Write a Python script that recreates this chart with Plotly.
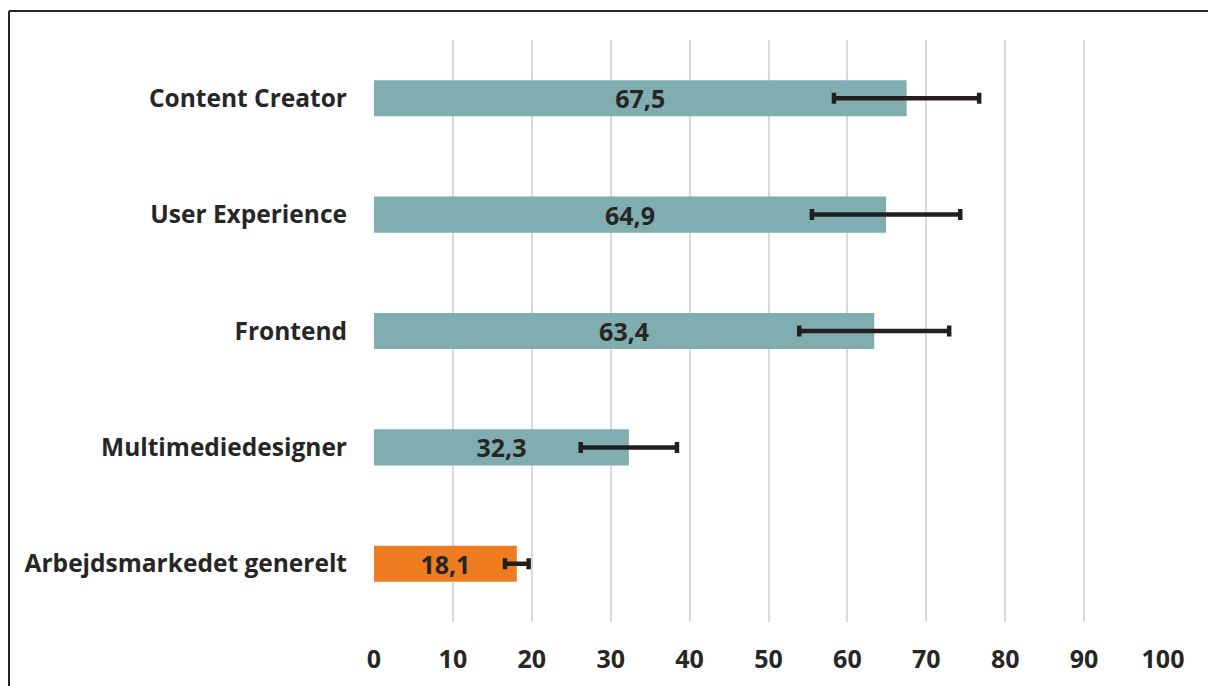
import plotly.graph_objects as go

categories = ["Arbejdsmarkedet generelt", "Multimediedesigner", "Frontend", "User Experience", "Content Creator"]
values = [18.1, 32.3, 63.4, 64.9, 67.5]
errors = [1.5, 6.1, 9.5, 9.4, 9.2]
bar_colors = ["#EE7D22", "#7FADB0", "#7FADB0", "#7FADB0", "#7FADB0"]
x_ticks = [0, 10, 20, 30, 40, 50, 60, 70, 80, 90, 100]

labels = [f"{v:.1f}".replace(".", ",") for v in values]

fig = go.Figure()
fig.add_trace(go.Bar(
    y=categories, x=values, orientation="h",
    marker=dict(color=bar_colors, line=dict(width=0)),
    width=0.31,
    text=labels, textposition="inside", insidetextanchor="middle", constraintext="none",
    textfont=dict(family="Open Sans", size=25, color="#262626", weight="bold"),
    error_x=dict(type="data", array=errors, visible=True, color="#231F20", thickness=4.5, width=5.5),
    hoverinfo="skip",
))

W, H = 1208, 686
ml, mr, mt, mb = 374, 45, 40, 64
pw, ph = W - ml - mr, H - mt - mb

def px_to_paper_x(px):
    return (px - ml) / pw

def px_to_paper_y(py):
    return (H - mb - py) / ph

frame = dict(color="#262626", width=2)
fig.update_layout(
    width=W, height=H,
    margin=dict(l=ml, r=mr, t=mt, b=mb),
    plot_bgcolor="white", paper_bgcolor="white",
    showlegend=False,
    xaxis=dict(range=[0, 100], tickvals=x_ticks, showgrid=True, gridcolor="#D9D9D9", gridwidth=2,
               zeroline=False, showline=False, ticks="", ticklabelstandoff=20,
               tickfont=dict(family="Open Sans", size=25, color="#262626", weight="bold")),
    yaxis=dict(showgrid=False, zeroline=False, showline=False, ticks="", ticklabelstandoff=26,
               tickfont=dict(family="Open Sans", size=24.5, color="#262626", weight="bold")),
    shapes=[
        dict(type="line", xref="paper", yref="paper",
             x0=px_to_paper_x(9), x1=px_to_paper_x(1260),
             y0=px_to_paper_y(11), y1=px_to_paper_y(11), line=frame, layer="below"),
        dict(type="line", xref="paper", yref="paper",
             x0=px_to_paper_x(9), x1=px_to_paper_x(9),
             y0=px_to_paper_y(11), y1=px_to_paper_y(760), line=frame, layer="below"),
    ],
)

fig.write_html(
    "out.html",
    config={"displayModeBar": False},
    post_script="document.body.style.margin='0';document.body.style.overflow='hidden';",
)
